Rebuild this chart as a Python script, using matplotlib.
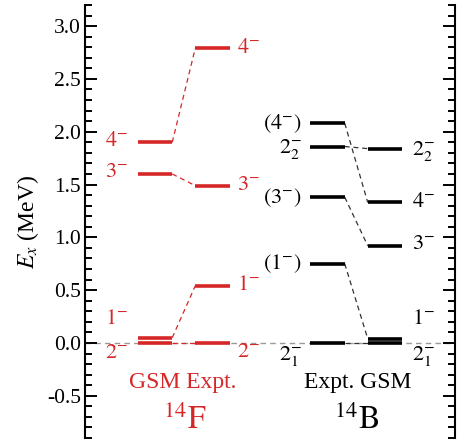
import matplotlib
matplotlib.use("Agg")
import matplotlib.pyplot as plt
from matplotlib.ticker import MultipleLocator

plt.rcParams['font.family'] = ['Liberation Serif', 'DejaVu Serif']
plt.rcParams['mathtext.fontset'] = 'stix'

RED = '#d62728'

# ---- data (MeV) ----
f14_states = ['2^{-}', '1^{-}', '3^{-}', '4^{-}']
f14_gsm = [0.00, 0.05, 1.60, 1.90]
f14_expt = [0.00, 0.54, 1.49, 2.79]

b14_expt_states = ['2^{-}_{1}', '(1^{-})', '(3^{-})', '2^{-}_{2}', '(4^{-})']
b14_expt = [0.00, 0.75, 1.38, 1.86, 2.08]
b14_gsm_states = ['2^{-}_{1}', '1^{-}', '3^{-}', '4^{-}', '2^{-}_{2}']
b14_gsm = [0.00, 0.04, 0.92, 1.33, 1.84]
# expt index -> gsm index
b14_pairs = [(0, 0), (1, 1), (2, 2), (3, 4), (4, 3)]

yticks = [-0.5, 0.0, 0.5, 1.0, 1.5, 2.0, 2.5, 3.0]

fig = plt.figure(figsize=(4.63, 4.42), dpi=100)
ax = fig.add_axes([85/463, 1-438/442, (455-85)/463, (438-5)/442])

xpos = [0, 1, 3, 4]   # column centres
hw = 0.30
lw_lvl = 2.6

ax.axhline(0.0, color='#999999', lw=1.0, ls=(0, (4, 3)), zorder=1)

def levels(x, es, color):
    for e in es:
        ax.plot([x-hw, x+hw], [e, e], color=color, lw=lw_lvl, solid_capstyle='butt', zorder=3)

levels(xpos[0], f14_gsm, RED)
levels(xpos[1], f14_expt, RED)
levels(xpos[2], b14_expt, 'black')
levels(xpos[3], b14_gsm, 'black')

for a, b in zip(f14_gsm, f14_expt):
    ax.plot([xpos[0]+hw, xpos[1]-hw], [a, b], color=RED, lw=0.9, ls=(0, (4, 3)), zorder=2)
for i, j in b14_pairs:
    ax.plot([xpos[2]+hw, xpos[3]-hw], [b14_expt[i], b14_gsm[j]], color='#333333', lw=0.9,
            ls=(0, (4, 3)), zorder=2)

fs = 16
# 14F labels
f14_gsm_off = [-0.10, 0.17, 0.01, 0.01]
for s, e, o in zip(f14_states, f14_gsm, f14_gsm_off):
    ax.text(xpos[0]-0.47, e+o, f'${s}$', color=RED, fontsize=fs, ha='right', va='center')
f14_exp_off = [-0.09, 0.0, 0.0, 0.0]
for s, e, o in zip(f14_states, f14_expt, f14_exp_off):
    ax.text(xpos[1]+0.43, e+o, f'${s}$', color=RED, fontsize=fs, ha='left', va='center')
# 14B labels
b14_exp_off = [-0.12, 0.0, 0.0, -0.02, 0.0]
for s, e, o in zip(b14_expt_states, b14_expt, b14_exp_off):
    ax.text(xpos[2]-0.44, e+o, f'${s}$', color='black', fontsize=fs, ha='right', va='center')
b14_gsm_off = [-0.12, 0.18, 0.01, 0.0, -0.02]
for s, e, o in zip(b14_gsm_states, b14_gsm, b14_gsm_off):
    ax.text(xpos[3]+0.47, e+o, f'${s}$', color='black', fontsize=fs, ha='left', va='center')

ax.text(0.48, -0.37, 'GSM Expt.', color=RED, fontsize=17, ha='center', va='center')
ax.text(3.53, -0.37, 'Expt. GSM', color='black', fontsize=17, ha='center', va='center')
ax.text(0.52, -0.73, r'$^{14}\mathrm{F}$', color=RED, fontsize=23, ha='center', va='center')
ax.text(3.51, -0.73, r'$^{14}\mathrm{B}$', color='black', fontsize=23, ha='center', va='center')

ax.set_xlim((85-155)/57.5, (455-155)/57.5)
ax.set_ylim(-0.9, 3.2)
ax.set_yticks(yticks)
ax.set_yticklabels([f'{t:.1f}' for t in yticks])
ax.yaxis.set_minor_locator(MultipleLocator(0.1))
ax.set_xticks([])
ax.tick_params(axis='y', which='both', direction='in', left=True, right=True, width=1.4,
               labelsize=15.5, pad=3)
ax.tick_params(axis='y', which='major', length=8.6)
ax.tick_params(axis='y', which='minor', length=4.7)
for sp in ['top', 'bottom']:
    ax.spines[sp].set_visible(False)
for sp in ['left', 'right']:
    ax.spines[sp].set_linewidth(1.5)
ax.set_ylabel(r'$E_x$ (MeV)', fontsize=17, labelpad=4)
ax.patch.set_alpha(0)

fig.savefig('out.png', dpi=100)
